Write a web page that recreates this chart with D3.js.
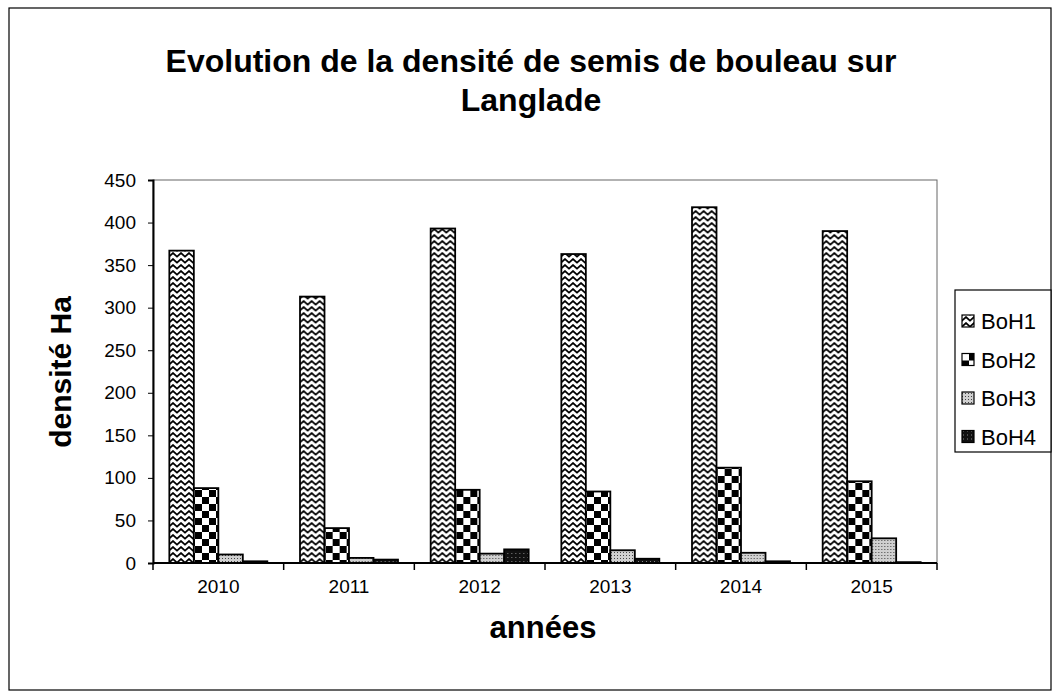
<!DOCTYPE html>
<html>
<head>
<meta charset="utf-8">
<script src="https://cdn.jsdelivr.net/npm/d3@7"></script>
<style>
  body { margin: 0; background: #fff; }
  text { font-family: "Liberation Sans", Arial, sans-serif; fill: #000; }
</style>
</head>
<body>
<div id="chart"></div>
<script>
// valeurs
const annees = ["2010", "2011", "2012", "2013", "2014", "2015"];
const series = ["BoH1", "BoH2", "BoH3", "BoH4"];
const boh1 = [367, 313, 393, 363, 418, 390];
const boh2 = [88, 41, 86, 84, 112, 96];
const boh3 = [10, 6, 11, 15, 12, 29];
const boh4 = [2, 4, 16, 5, 2, 1];
const yTicks = [0, 50, 100, 150, 200, 250, 300, 350, 400, 450];

const valeurs = [boh1, boh2, boh3, boh4];

const svg = d3.select("#chart").append("svg");
svg.attr("width", 1057).attr("height", 698);

// motifs de remplissage
const defs = svg.append("defs");

const p1 = defs.append("pattern").attr("id", "pat0")
    .attr("patternUnits", "userSpaceOnUse").attr("width", 8).attr("height", 6);
p1.append("rect").attr("width", 8).attr("height", 6).attr("fill", "#fff");
p1.append("path").attr("d", "M-0.5,5 L4,1 L8.5,5")
    .attr("fill", "none").attr("stroke", "#000").attr("stroke-width", 1.7);

const p2 = defs.append("pattern").attr("id", "pat1")
    .attr("patternUnits", "userSpaceOnUse").attr("width", 14).attr("height", 14);
p2.append("rect").attr("width", 14).attr("height", 14).attr("fill", "#fff");
p2.append("rect").attr("width", 7).attr("height", 7).attr("fill", "#000");
p2.append("rect").attr("x", 7).attr("y", 7).attr("width", 7).attr("height", 7).attr("fill", "#000");

const p3 = defs.append("pattern").attr("id", "pat2")
    .attr("patternUnits", "userSpaceOnUse").attr("width", 3).attr("height", 3);
p3.append("rect").attr("width", 3).attr("height", 3).attr("fill", "#d0d0d0");
p3.append("rect").attr("width", 1).attr("height", 1).attr("fill", "#444");

const p4 = defs.append("pattern").attr("id", "pat3")
    .attr("patternUnits", "userSpaceOnUse").attr("width", 4).attr("height", 4);
p4.append("rect").attr("width", 4).attr("height", 4).attr("fill", "#111");
p4.append("rect").attr("x", 1).attr("y", 1).attr("width", 1).attr("height", 1).attr("fill", "#888");

// cadre extérieur
svg.append("rect")
    .attr("x", 9).attr("y", 8).attr("width", 1042).attr("height", 682)
    .attr("fill", "none").attr("stroke", "#000").attr("stroke-width", 1.2);

// titre
svg.append("text")
    .attr("x", 531).attr("y", 72)
    .attr("text-anchor", "middle")
    .style("font-size", "32px").style("font-weight", "bold")
    .text("Evolution de la densité de semis de bouleau sur");
svg.append("text")
    .attr("x", 531).attr("y", 111)
    .attr("text-anchor", "middle")
    .style("font-size", "32px").style("font-weight", "bold")
    .text("Langlade");

const mLeft = 153, mRight = 937, mTop = 180, mBottom = 563;

const x0 = d3.scaleBand().domain(annees).range([mLeft, mRight]).padding(0);
const x1 = d3.scaleBand().domain(series).range([0, x0.bandwidth()])
    .paddingInner(0).paddingOuter(0.667);
const y = d3.scaleLinear().domain([0, 450]).range([mBottom, mTop]);

// zone de traçage
svg.append("rect")
    .attr("x", mLeft).attr("y", mTop)
    .attr("width", mRight - mLeft).attr("height", mBottom - mTop)
    .attr("fill", "#fff").attr("stroke", "#666").attr("stroke-width", 1);

// barres
const groupes = svg.selectAll("g.annee")
    .data(annees)
    .join("g")
    .attr("class", "annee")
    .attr("transform", d => `translate(${x0(d)},0)`);

groupes.selectAll("rect")
    .data((d, i) => series.map((s, j) => ({ serie: s, j: j, v: valeurs[j][i] })))
    .join("rect")
    .attr("x", d => x1(d.serie))
    .attr("y", d => y(d.v))
    .attr("width", x1.bandwidth())
    .attr("height", d => y(0) - y(d.v))
    .attr("fill", d => `url(#pat${d.j})`)
    .attr("stroke", "#000")
    .attr("stroke-width", 1.8);

// axe Y
const axeY = svg.append("g")
    .attr("transform", `translate(${mLeft},0)`)
    .call(d3.axisLeft(y).tickValues(yTicks).tickSize(5).tickPadding(12));
axeY.select(".domain").attr("stroke-width", 2);
axeY.selectAll("text").style("font-size", "19px");

// axe X : graduations aux limites des groupes
const axeX = svg.append("g")
    .attr("transform", `translate(0,${mBottom})`);
axeX.append("line")
    .attr("x1", mLeft).attr("x2", mRight)
    .attr("stroke", "#000").attr("stroke-width", 2);
axeX.selectAll("line.tick")
    .data(annees.concat(["fin"]))
    .join("line")
    .attr("class", "tick")
    .attr("x1", (d, i) => i < annees.length ? x0(d) : mRight)
    .attr("x2", (d, i) => i < annees.length ? x0(d) : mRight)
    .attr("y1", 0).attr("y2", 7)
    .attr("stroke", "#000").attr("stroke-width", 1.5);
axeX.selectAll("text")
    .data(annees)
    .join("text")
    .attr("x", d => x0(d) + x0.bandwidth() / 2)
    .attr("y", 30)
    .attr("text-anchor", "middle")
    .style("font-size", "19px")
    .text(d => d);

// titres des axes
svg.append("text")
    .attr("x", 543).attr("y", 638)
    .attr("text-anchor", "middle")
    .style("font-size", "31px").style("font-weight", "bold")
    .text("années");
svg.append("text")
    .attr("transform", "translate(71,372) rotate(-90)")
    .attr("text-anchor", "middle")
    .style("font-size", "30px").style("font-weight", "bold")
    .text("densité Ha");

// légende
const leg = svg.append("g");
leg.append("rect")
    .attr("x", 955).attr("y", 290).attr("width", 96).attr("height", 162)
    .attr("fill", "#fff").attr("stroke", "#000").attr("stroke-width", 1.2);
const items = leg.selectAll("g.item")
    .data(series)
    .join("g")
    .attr("class", "item")
    .attr("transform", (d, i) => `translate(962,${322 + i * 38.5})`);
items.append("rect")
    .attr("x", 0).attr("y", -7).attr("width", 12).attr("height", 12)
    .attr("fill", (d, i) => `url(#pat${i})`)
    .attr("stroke", "#000").attr("stroke-width", 1.2);
items.append("text")
    .attr("x", 19).attr("y", 7)
    .style("font-size", "22px")
    .text(d => d);
</script>
</body>
</html>
